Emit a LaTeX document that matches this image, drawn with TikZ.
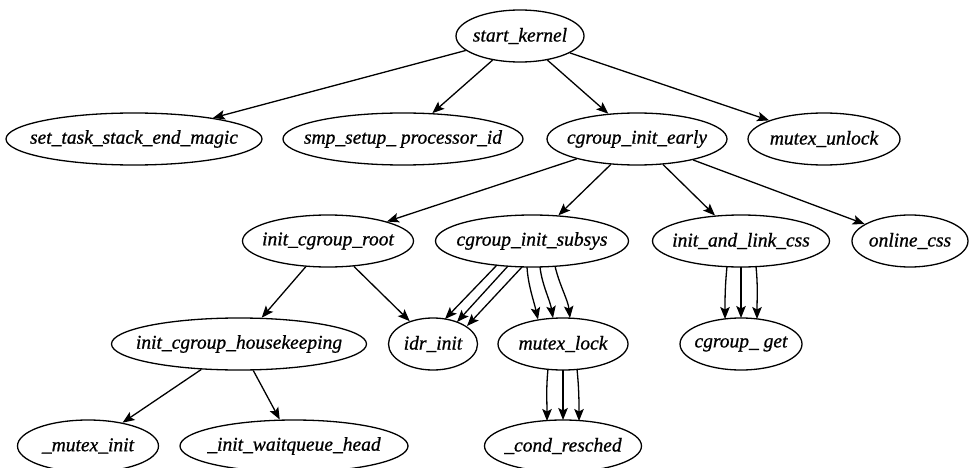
\documentclass[tikz,border=0pt]{standalone}
\usepackage{fontspec}
\setmainfont{Liberation Serif}[ItalicFeatures={FakeBold=0.8}]
\usetikzlibrary{shapes.geometric,arrows.meta,calc}
\newcommand{\fnlabel}[1]{\makebox[0pt]{#1}}
\begin{document}
\begin{tikzpicture}[x=1pt,y=-1pt,
  fn/.style={draw, ellipse, line width=1.3pt, inner sep=0pt, minimum height=52pt,
    font=\fontsize{19.5}{23}\selectfont\itshape},
  edge/.style={line width=1.3pt, -{Stealth[length=12pt,width=9.5pt,inset=2.5pt]}}]
\useasboundingbox (0,0) rectangle (969,468);
% row 1
\node[fn, minimum width=128pt] (sk) at (520,36) {\fnlabel{start\_kernel}};
% row 2
\node[fn, minimum width=256pt] (stm) at (134,139) {\fnlabel{set\_task\_stack\_end\_magic}};
\node[fn, minimum width=240pt] (smp) at (403,139) {\fnlabel{smp\_setup\_ processor\_id}};
\node[fn, minimum width=180pt] (cie) at (637,139) {\fnlabel{cgroup\_init\_early}};
\node[fn, minimum width=152pt] (mu) at (824,139) {\fnlabel{mutex\_unlock}};
% row 3
\node[fn, minimum width=171pt] (icr) at (328,241) {\fnlabel{init\_cgroup\_root}};
\node[fn, minimum width=193pt] (cis) at (532,241) {\fnlabel{cgroup\_init\_subsys}};
\node[fn, minimum width=177pt] (ilc) at (741,241) {\fnlabel{init\_and\_link\_css}};
\node[fn, minimum width=116pt] (oc) at (910,241) {\fnlabel{online\_css}};
% row 4
\node[fn, minimum width=255pt] (ich) at (239,344) {\fnlabel{init\_cgroup\_housekeeping}};
\node[fn, minimum width=89pt] (idr) at (433,344) {\fnlabel{idr\_init}};
\node[fn, minimum width=130pt] (ml) at (563,344) {\fnlabel{mutex\_lock}};
\node[fn, minimum width=122pt] (cg) at (741,344) {\fnlabel{cgroup\_ get}};
% row 5
\node[fn, minimum width=141pt] (mi) at (88,446) {\fnlabel{\_mutex\_init}};
\node[fn, minimum width=228pt] (iwh) at (294,446) {\fnlabel{\_init\_waitqueue\_head}};
\node[fn, minimum width=157pt] (cr) at (563,446) {\fnlabel{\_cond\_resched}};
% edges
\draw[edge] (sk) -- (stm);
\draw[edge] (sk) -- (smp);
\draw[edge] (sk) -- (cie);
\draw[edge] (sk) -- (mu);
\draw[edge] (cie) -- (icr);
\draw[edge] (cie) -- (cis);
\draw[edge] (cie) -- (ilc);
\draw[edge] (cie) -- (oc);
\draw[edge] (icr) -- (ich);
\draw[edge] (icr) -- (idr);
\draw[edge] (ich) -- (mi);
\draw[edge] (ich) -- (iwh);
% cgroup_init_subsys -> idr_init (x3)
\draw[edge] ($(cis)+(-35,24)$) -- ($(idr)+(12,-25)$);
\draw[edge] ($(cis)+(-24,25)$) -- ($(idr)+(24,-22)$);
\draw[edge] ($(cis)+(-10,26)$) -- ($(idr)+(34,-18)$);
% cgroup_init_subsys -> mutex_lock (x3)
\draw[edge] ($(cis)+(-5,26)$) .. controls +(1,18) and +(-4,-18) .. ($(ml)+(-25,-24.5)$);
\draw[edge] ($(cis)+(8,26)$) .. controls +(2,18) and +(-3,-18) .. ($(ml)+(-10,-26)$);
\draw[edge] ($(cis)+(23,25)$) .. controls +(4,18) and +(-2,-18) .. ($(ml)+(7,-26)$);
% init_and_link_css -> cgroup_get (x3)
\draw[edge] ($(ilc)+(-14,25.5)$) .. controls +(-2,20) and +(0,-20) .. ($(cg)+(-16,-25)$);
\draw[edge] ($(ilc)+(0,26)$) -- ($(cg)+(0,-26)$);
\draw[edge] ($(ilc)+(15,25.5)$) .. controls +(2,20) and +(0,-20) .. ($(cg)+(16,-25)$);
% mutex_lock -> _cond_resched (x3)
\draw[edge] ($(ml)+(-15,25)$) .. controls +(-2,20) and +(0,-20) .. ($(cr)+(-16,-25)$);
\draw[edge] ($(ml)+(0,26)$) -- ($(cr)+(0,-26)$);
\draw[edge] ($(ml)+(14,25)$) .. controls +(2,20) and +(0,-20) .. ($(cr)+(16,-25)$);
\end{tikzpicture}
\end{document}
